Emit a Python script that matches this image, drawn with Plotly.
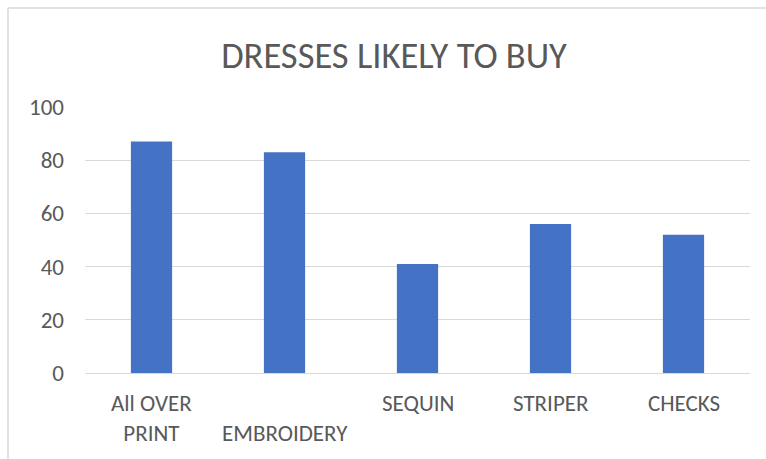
import plotly.graph_objects as go

# Survey results: share of respondents likely to buy each dress style
categories = ["All OVER PRINT", "EMBROIDERY", "SEQUIN", "STRIPER", "CHECKS"]
values = [87, 83, 41, 56, 52]
y_ticks = [0, 20, 40, 60, 80, 100]
# wrapped category labels as shown under the axis, and the text row each starts on
axis_labels = ["All OVER<br>PRINT", "EMBROIDERY", "SEQUIN", "STRIPER", "CHECKS"]
label_rows = [0, 1, 0, 0, 0]

FONT = "Carlito, Calibri, Lato, 'Open Sans', sans-serif"
TEXT = "#595959"
GRID = "#d9d9d9"
LABEL_SIZE = 23

fig = go.Figure(
    go.Bar(
        x=categories,
        y=values,
        marker=dict(color="#4472c4", line=dict(width=0)),
        hoverinfo="x+y",
    )
)

fig.update_layout(
    width=766,
    height=459,
    margin=dict(l=85, r=16, t=107, b=86),
    paper_bgcolor="white",
    plot_bgcolor="white",
    bargap=0.69,
    showlegend=False,
    font=dict(family=FONT, color=TEXT),
    title=dict(
        text="DRESSES LIKELY TO BUY",
        x=394 / 766,
        xanchor="center",
        xref="container",
        y=1 - 55 / 459,
        yanchor="middle",
        font=dict(size=36.5, color=TEXT, family=FONT),
    ),
    xaxis=dict(
        showgrid=False,
        showline=True,
        linecolor=GRID,
        linewidth=1,
        ticks="",
        showticklabels=False,
        fixedrange=True,
    ),
    yaxis=dict(
        range=[0, 100],
        tickvals=y_ticks,
        showgrid=True,
        gridcolor=GRID,
        gridwidth=1,
        zeroline=False,
        showline=False,
        ticks="",
        ticklabelstandoff=20,
        tickfont=dict(size=23, color=TEXT),
        fixedrange=True,
    ),
)

# Category labels under each bar
line_h = 1.3 * LABEL_SIZE
for cat, text, row in zip(categories, axis_labels, label_rows):
    fig.add_annotation(
        x=cat, y=0, xref="x", yref="y",
        text=text, showarrow=False,
        xanchor="center", yanchor="top", yshift=-14 - row * line_h,
        font=dict(size=LABEL_SIZE, color=TEXT, family=FONT),
    )

# Chart-area frame (left and top edges), relative to the plot area
plot_w, plot_h = 665, 266
fx = (8 - 85) / plot_w
fy_top = 1 + (107 - 8) / plot_h
fig.add_shape(type="line", xref="paper", yref="paper",
              x0=fx, x1=fx, y0=fy_top, y1=-1,
              line=dict(color=GRID, width=1.5))
fig.add_shape(type="line", xref="paper", yref="paper",
              x0=fx, x1=2, y0=fy_top, y1=fy_top,
              line=dict(color=GRID, width=1.5))

fig.write_html("out.html", config={"displayModeBar": False})
